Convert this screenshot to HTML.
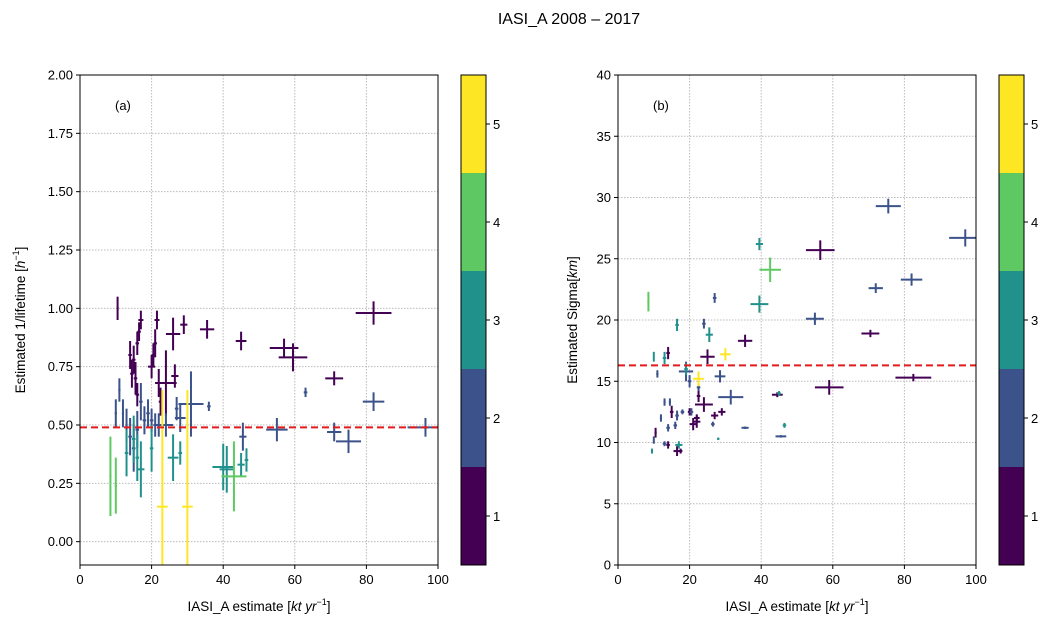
<!DOCTYPE html>
<html><head><meta charset="utf-8"><style>
body{margin:0;background:#fff;}
svg text{font-family:"Liberation Sans","DejaVu Sans",sans-serif;fill:#000;}
</style></head><body>
<svg id="c" width="1056" height="628" xmlns="http://www.w3.org/2000/svg">
<text x="569" y="24" font-size="16" text-anchor="middle">IASI_A 2008 – 2017</text>
</svg>
<script>
// Panel (a) data
const aX=[10.5,14,15,16,16.5,17,14.5,15.5,16,20,20.5,21,21.5,22,24,26,29,35.5,45,57,59.5,71,82,26.5,22.5,
10,11,12,13,14,15,16,17,18,19,20,21,22,24,27,28,31,36,45.5,55,63,71,75,82,96.5,
13,17,20,26,28,40,41,45,46.5,16,15,8.5,10,43,23,30];
const aXe=[0.3,0.5,0.5,0.5,0.5,0.7,0.5,0.5,0.5,1,0.5,0.5,0.7,1,3,2,1,2,1.5,4,4,2.5,5,1,0.5,
0.3,0.3,0.3,0.3,0.5,0.5,0.5,0.5,0.5,0.5,0.5,0.5,1,2,0.5,1.5,3.5,0.5,1,3,0.5,2,3.5,3,5,
0.5,1,0.5,1.5,0.5,3,2,1,0.5,0.5,0.5,0.3,0.3,3.5,1.5,1.5];
const aY=[1.00,0.80,0.78,0.85,0.90,0.95,0.72,0.70,0.63,0.75,0.80,0.85,0.95,0.68,0.68,0.89,0.93,0.91,0.86,0.83,0.79,0.70,0.98,0.71,0.60,
0.55,0.65,0.55,0.50,0.45,0.40,0.48,0.60,0.52,0.55,0.52,0.50,0.50,0.50,0.57,0.53,0.59,0.58,0.45,0.48,0.64,0.47,0.43,0.60,0.49,
0.38,0.31,0.40,0.36,0.38,0.32,0.31,0.33,0.35,0.36,0.44,0.28,0.24,0.28,0.15,0.15];
const aYe=[0.05,0.06,0.06,0.05,0.04,0.04,0.06,0.07,0.05,0.05,0.05,0.06,0.04,0.06,0.14,0.07,0.04,0.04,0.04,0.04,0.06,0.03,0.05,0.05,0.06,
0.06,0.05,0.06,0.07,0.08,0.1,0.08,0.08,0.06,0.06,0.05,0.05,0.05,0.05,0.05,0.06,0.14,0.02,0.06,0.05,0.02,0.04,0.05,0.04,0.04,
0.1,0.12,0.1,0.1,0.05,0.1,0.1,0.05,0.05,0.1,0.1,0.17,0.12,0.15,0.5,0.5];
const aC=[1,1,1,1,1,1,1,1,1,1,1,1,1,1,1,1,1,1,1,1,1,1,1,1,1,
2,2,2,2,2,2,2,2,2,2,2,2,2,2,2,2,2,2,2,2,2,2,2,2,2,
3,3,3,3,3,3,3,3,3,3,3,4,4,4,5,5];
// Panel (b) data
const bX=[14,25,35.5,56.5,70.5,59,82.5,24,44.5,15,20,21,22,22,27,29,16.5,10.5,14,17.5,22.5,
75.5,97,82,72,55,27,24,19,28.5,31.5,22.5,11,13,14.5,12,16.5,14,16,20,20.5,18,26.5,35.5,45.5,10,13,
39.5,39.5,25.5,16.5,13,10,19,45,46.5,28,17,9.5,8.5,42.5,30,22.5];
const bXe=[0.5,2,2,4,2.5,4,5,2.5,1.5,0.5,0.5,1,0.8,1,1,1,1,0.3,0.5,0.5,0.5,
3.5,4.5,3,2,2.5,0.5,0.5,2,1.5,3.5,0.5,0.3,0.3,0.3,0.3,0.5,0.5,0.5,0.5,0.5,0.5,0.5,1,1.5,0.2,0.5,
1,2.5,1,0.5,0.5,0.2,0.5,0.5,0.5,0.3,1,0.2,0.3,3,1.5,1.5];
const bY=[17.3,17,18.3,25.7,18.9,14.5,15.3,13.1,13.9,12.5,12.5,11.5,12.0,11.7,12.2,12.5,9.3,10.8,9.8,9.3,13.8,
29.3,26.7,23.3,22.6,20.1,21.8,19.7,15.8,15.4,13.7,14.5,15.6,13.3,13.3,12.0,12.2,11.2,11.4,15,12.5,12.5,11.5,11.2,10.5,10.2,9.9,
26.2,21.3,18.8,19.6,16.9,17,16,14,11.4,10.3,9.8,9.3,21.5,24.1,17.2,15.2];
const bYe=[0.5,0.6,0.5,0.8,0.3,0.6,0.3,0.6,0.2,0.5,0.3,0.5,0.3,0.5,0.3,0.3,0.4,0.4,0.3,0.2,0.5,
0.6,0.7,0.5,0.4,0.5,0.4,0.4,0.8,0.5,0.6,0.3,0.3,0.3,0.3,0.3,0.4,0.3,0.3,0.5,0.3,0.2,0.2,0.1,0.1,0.3,0.2,
0.5,0.7,0.6,0.5,0.5,0.4,0.5,0.2,0.2,0.1,0.3,0.2,0.8,1.0,0.5,0.6];
const bC=[1,1,1,1,1,1,1,1,1,1,1,1,1,1,1,1,1,1,1,1,1,
2,2,2,2,2,2,2,2,2,2,2,2,2,2,2,2,2,2,2,2,2,2,2,2,2,2,
3,3,3,3,3,3,3,3,3,3,3,3,4,4,5,5];
const aRef=0.49, bRef=16.3;
const aYTicks=["0.00","0.25","0.50","0.75","1.00","1.25","1.50","1.75","2.00"];
const bYTicks=["0","5","10","15","20","25","30","35","40"];
const xTicks=["0","20","40","60","80","100"];
const cbTicks=["1","2","3","4","5"];
const colors=["#440154","#3b528b","#21918c","#5ec962","#fde725"];

const NS="http://www.w3.org/2000/svg";
const svg=document.getElementById('c');
function mk(t,a,p){const e=document.createElementNS(NS,t);for(const k in a)e.setAttribute(k,a[k]);(p||svg).appendChild(e);return e;}

function panel(o){
  const L=o.L,R=o.L+358,T=75,B=565;
  const sx=v=>L+(v-0)/100*(R-L);
  const sy=v=>B-(v-o.ymin)/(o.ymax-o.ymin)*(B-T);
  const g=mk('g',{});
  
  
  const cid='clip'+o.name;
  const cp=mk('clipPath',{id:cid},g);mk('rect',{x:L,y:T,width:R-L,height:B-T},cp);
  // grid
  xTicks.forEach(t=>{const x=sx(+t);mk('line',{x1:x,x2:x,y1:T,y2:B,stroke:'#bbb','stroke-dasharray':'1.5,1.5','stroke-width':1},g);});
  o.yt.forEach(t=>{const y=sy(+t);mk('line',{x1:L,x2:R,y1:y,y2:y,stroke:'#bbb','stroke-dasharray':'1.5,1.5','stroke-width':1},g);});
  // data
  const dg=mk('g',{'clip-path':'url(#'+cid+')'},g);
  for(let i=0;i<o.X.length;i++){
    const col=colors[o.C[i]-1];
    const m=mk('g',{stroke:col,'stroke-width':2},dg);
    
    
    mk('line',{x1:sx(o.X[i]-o.Xe[i]),x2:sx(o.X[i]+o.Xe[i]),y1:sy(o.Y[i]),y2:sy(o.Y[i])},m);
    mk('line',{x1:sx(o.X[i]),x2:sx(o.X[i]),y1:sy(o.Y[i]-o.Ye[i]),y2:sy(o.Y[i]+o.Ye[i])},m);
  }
  const rl=mk('line',{x1:L,x2:R,y1:sy(o.ref),y2:sy(o.ref),stroke:'#e41a1c','stroke-width':2,'stroke-dasharray':'7,4'},g);
  
  
  mk('rect',{x:L,y:T,width:R-L,height:B-T,fill:'none',stroke:'#000','stroke-width':1},g);
  xTicks.forEach(t=>{const x=sx(+t);mk('line',{x1:x,x2:x,y1:B,y2:B+4,stroke:'#000'},g);
    const tx=mk('text',{x:x,y:B+19,'font-size':13,'text-anchor':'middle'},g);tx.textContent=t;});
  o.yt.forEach(t=>{const y=sy(+t);mk('line',{x1:L-4,x2:L,y1:y,y2:y,stroke:'#000'},g);
    const tx=mk('text',{x:L-7,y:y+4.5,'font-size':13,'text-anchor':'end'},g);tx.textContent=t;});
  const pl=mk('text',{x:L+35,y:110,'font-size':13},g);pl.textContent=o.lab;
  const xl=mk('text',{x:(L+R)/2,y:611,'font-size':13.5,'text-anchor':'middle'},g);
  
  xl.innerHTML='IASI_A estimate [<tspan font-style="italic">kt yr</tspan><tspan font-size="9" dy="-6">−1</tspan><tspan dy="6">]</tspan>';
  const yl=mk('text',{transform:`translate(${o.yx},320) rotate(-90)`,'font-size':13.5,'text-anchor':'middle'},g);
  
  yl.innerHTML=o.ylab;
  // colorbar
  const cx=o.L+381,cw=25,ch=(B-T)/5;
  const cb=mk('g',{},g);
  
  
  colors.forEach((c,k)=>mk('rect',{x:cx,y:B-(k+1)*ch,width:cw,height:ch,fill:c},cb));
  mk('rect',{x:cx,y:T,width:cw,height:B-T,fill:'none',stroke:'#000'},cb);
  cbTicks.forEach((t,k)=>{const y=B-(k+0.5)*ch;mk('line',{x1:cx+cw,x2:cx+cw+4,y1:y,y2:y,stroke:'#000'},cb);
    const tx=mk('text',{x:cx+cw+7,y:y+5,'font-size':13},cb);tx.textContent=t;});
}
panel({name:'panel-a',L:80,ymin:-0.1,ymax:2.0,yt:aYTicks,X:aX,Xe:aXe,Y:aY,Ye:aYe,C:aC,ref:aRef,lab:'(a)',yx:25,
  ylab:'Estimated 1/lifetime  [<tspan font-style="italic">h</tspan><tspan font-size="9" dy="-6">−1</tspan><tspan dy="6">]</tspan>'});
panel({name:'panel-b',L:618,ymin:0,ymax:40,yt:bYTicks,X:bX,Xe:bXe,Y:bY,Ye:bYe,C:bC,ref:bRef,lab:'(b)',yx:577,
  ylab:'Estimated Sigma[<tspan font-style="italic">km</tspan>]'});
</script>
</body></html>
